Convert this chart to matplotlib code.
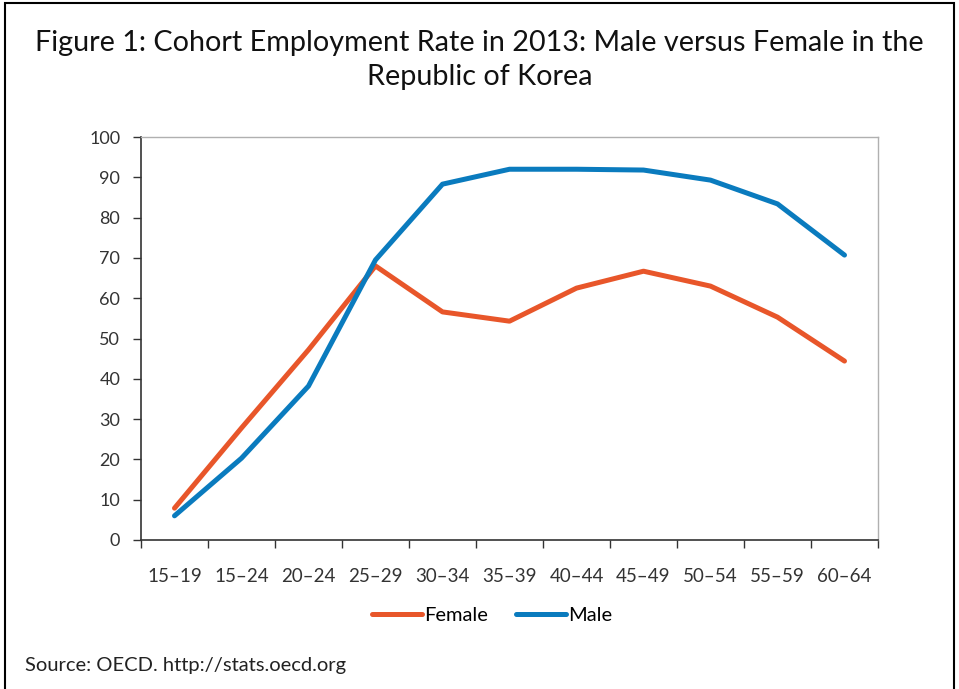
import matplotlib
matplotlib.use("Agg")
import matplotlib.pyplot as plt
from matplotlib.patches import Rectangle
from matplotlib.lines import Line2D

categories = ["15–19", "15–24", "20–24", "25–29", "30–34", "35–39",
              "40–44", "45–49", "50–54", "55–59", "60–64"]
female = [7.9, 27.8, 47.2, 68.0, 56.6, 54.3, 62.5, 66.7, 63.0, 55.3, 44.4]
male = [6.0, 20.3, 38.2, 69.5, 88.3, 92.0, 92.0, 91.8, 89.3, 83.4, 70.7]
yticks = [0, 10, 20, 30, 40, 50, 60, 70, 80, 90, 100]

FONT = "Lato"
ORANGE = "#E8562A"
BLUE = "#0A7BBE"

fig = plt.figure(figsize=(9.59, 6.89), dpi=100)
ax = fig.add_axes([141/959, 1-540/689, (878-141)/959, (540-137)/689])

x = list(range(len(categories)))
ax.plot(x, female, color=ORANGE, lw=3.6, solid_capstyle="round", solid_joinstyle="round", label="Female")
ax.plot(x, male, color=BLUE, lw=3.6, solid_capstyle="round", solid_joinstyle="round", label="Male")

ax.set_xlim(-0.5, len(categories) - 0.5)
ax.set_ylim(0, 100)
ax.set_yticks(yticks)
ax.set_yticklabels([str(v) for v in yticks], fontfamily=FONT, fontsize=13, color="#333333")
ax.set_xticks(x)
ax.set_xticklabels(categories, fontfamily=FONT, fontsize=13.5, color="#333333")
ax.tick_params(axis="x", which="major", length=0, pad=20)
ax.set_xticks([i - 0.5 for i in range(len(categories) + 1)], minor=True)
ax.tick_params(axis="x", which="minor", length=6, width=1, color="#333333", direction="out")
ax.tick_params(axis="y", length=6, width=1, color="#333333", pad=9)

for s in ["left", "bottom"]:
    ax.spines[s].set_color("#333333")
    ax.spines[s].set_linewidth(1.2)
for s in ["top", "right"]:
    ax.spines[s].set_color("#B0B0B0")
    ax.spines[s].set_linewidth(1.0)

handles = [Line2D([], [], color=ORANGE, lw=3.6, solid_capstyle="round"),
           Line2D([], [], color=BLUE, lw=3.6, solid_capstyle="round")]
fig.legend(handles, ["Female", "Male"], loc="center", bbox_to_anchor=(492/959, 1-615/689),
           ncol=2, frameon=False, handlelength=2.5, handletextpad=0.1, columnspacing=1.4,
           prop={"family": FONT, "size": 14.5})

fig.text(0.5, 1-43/689, "Figure 1: Cohort Employment Rate in 2013: Male versus Female in the",
         ha="center", va="center", fontfamily=FONT, fontsize=20.7, color="#111111")
fig.text(0.5, 1-77/689, "Republic of Korea",
         ha="center", va="center", fontfamily=FONT, fontsize=20.7, color="#111111")
fig.text(25/959, 1-665/689, "Source: OECD. http://stats.oecd.org",
         ha="left", va="center", fontfamily=FONT, fontsize=14.5, color="#222222")

fig.add_artist(Rectangle((5/959, -0.05), (954-5)/959, 1.05 - 3/689, transform=fig.transFigure,
                         fill=False, edgecolor="black", lw=1.5))

fig.savefig("out.png", dpi=100)
